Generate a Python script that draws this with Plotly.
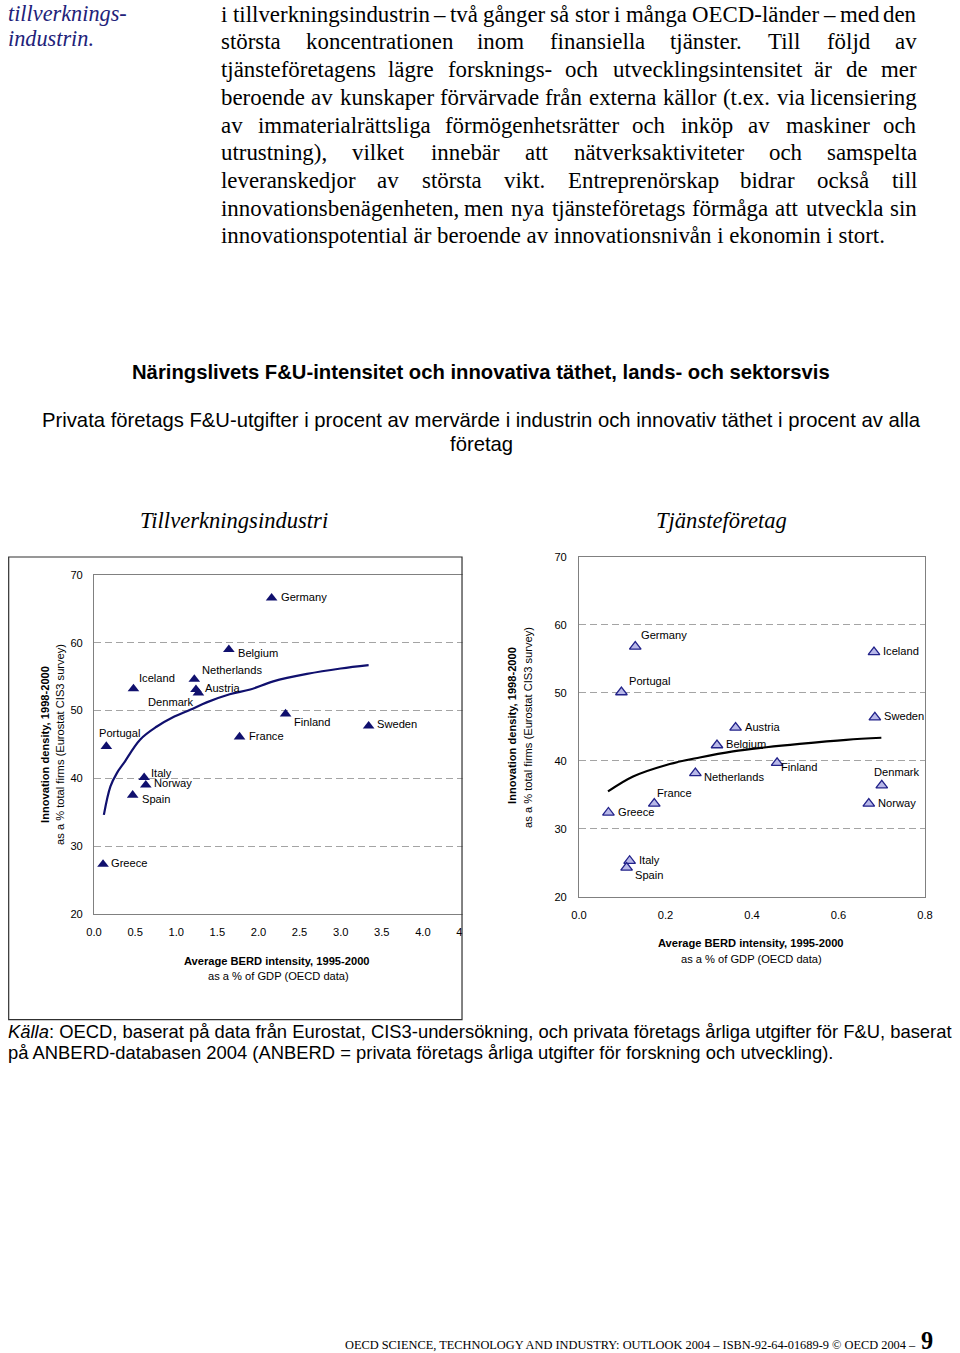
import plotly.graph_objects as go

# ---------------- DATA ----------------
manuf_countries = ["Germany", "Belgium", "Netherlands", "Iceland", "Austria", "Denmark", "Finland",
                   "Sweden", "France", "Portugal", "Italy", "Norway", "Spain", "Greece"]
manuf_berd = [2.16, 1.64, 1.22, 0.48, 1.27, 1.24, 2.33, 3.34, 1.77, 0.15, 0.61, 0.63, 0.47, 0.11]
manuf_innov = [66.6, 59.0, 54.6, 53.2, 52.6, 53.1, 49.5, 47.7, 46.1, 44.7, 40.1, 39.0, 37.5, 27.3]

manuf_trend_x = [0.12, 0.20, 0.28, 0.36, 0.56, 0.76, 0.96, 1.17, 1.37, 1.65, 1.90, 2.18, 2.59, 3.00, 3.34]
manuf_trend_y = [34.6, 38.8, 40.8, 42.2, 45.7, 47.6, 49.0, 50.1, 51.2, 52.4, 53.1, 54.3, 55.4, 56.2, 56.7]

serv_countries = ["Germany", "Portugal", "Iceland", "Sweden", "Austria", "Belgium", "Finland",
                  "Netherlands", "Denmark", "Norway", "France", "Greece", "Italy", "Spain"]
serv_berd = [0.130, 0.098, 0.682, 0.684, 0.362, 0.319, 0.458, 0.269, 0.700, 0.670, 0.174, 0.068, 0.117, 0.110]
serv_innov = [56.8, 50.1, 56.0, 46.4, 44.9, 42.3, 39.7, 38.2, 36.4, 33.7, 33.7, 32.4, 25.3, 24.3]

serv_trend_x = [0.067, 0.125, 0.202, 0.279, 0.356, 0.433, 0.510, 0.618, 0.699]
serv_trend_y = [35.5, 37.7, 39.4, 40.5, 41.4, 42.0, 42.5, 43.1, 43.4]

x_ticks_manuf = [0.0, 0.5, 1.0, 1.5, 2.0, 2.5, 3.0, 3.5, 4.0, 4.5]
x_ticks_serv = [0.0, 0.2, 0.4, 0.6, 0.8]
y_ticks = [20, 30, 40, 50, 60, 70]

paragraph_lines = [
    "i tillverkningsindustrin – två gånger så stor i många OECD-länder – med den",
    "största koncentrationen inom finansiella tjänster. Till följd av",
    "tjänsteföretagens lägre forsknings- och utvecklingsintensitet är de mer",
    "beroende av kunskaper förvärvade från externa källor (t.ex. via licensiering",
    "av immaterialrättsliga förmögenhetsrätter och inköp av maskiner och",
    "utrustning), vilket innebär att nätverksaktiviteter och samspelta",
    "leveranskedjor av största vikt. Entreprenörskap bidrar också till",
    "innovationsbenägenheten, men nya tjänsteföretags förmåga att utveckla sin",
    "innovationspotential är beroende av innovationsnivån i ekonomin i stort.",
]
side_note = ["tillverknings-", "industrin."]

main_title = "Näringslivets F&U-intensitet och innovativa täthet, lands- och sektorsvis"
sub_title = ["Privata företags F&U-utgifter i procent av mervärde i industrin och innovativ täthet i procent av alla",
             "företag"]
panel_titles = ["Tillverkningsindustri", "Tjänsteföretag"]
y_title = ["Innovation density, 1998-2000", "as a % total firms (Eurostat CIS3 survey)"]
x_title = ["Average BERD intensity, 1995-2000", "as a % of GDP (OECD data)"]
source_lines = ["<i>Källa</i>: OECD, baserat på data från Eurostat, CIS3-undersökning, och privata företags årliga utgifter för F&U, baserat",
                "på ANBERD-databasen 2004 (ANBERD = privata företags årliga utgifter för forskning och utveckling)."]
footer = "OECD SCIENCE, TECHNOLOGY AND INDUSTRY: OUTLOOK 2004 – ISBN-92-64-01689-9 © OECD 2004 –"
page_no = "9"

# ---------------- STYLE / PLACEMENT ----------------
W, H = 960, 1353
# the rendered page appears inset in the picture; place items so they land at target pixels
SX, OX = 0.9833, 8.0
SY, OY = 0.9917, 5.7
FSC = 1 / 0.987

def page_x(x): return max((x - OX) / SX, 0.0)
def page_y(y): return (y - OY) / SY
def px(x): return page_x(x) / W
def py(y): return 1 - page_y(y) / H
def fs(s): return s * FSC

NAVY = "#10106e"
SANS = "Liberation Sans, Arial, sans-serif"
SERIF = "Liberation Serif, Times New Roman, serif"
GRID = "#a4a4a4"

manuf_lab = {"Germany": (9, -1, "left"), "Belgium": (9, 3, "left"), "Netherlands": (8, -9, "left"),
             "Iceland": (5, -11, "left"), "Austria": (6, -5, "left"), "Denmark": (-2, 12, "right"),
             "Finland": (8, 8, "left"), "Sweden": (8, -2, "left"), "France": (9, -1, "left"),
             "Portugal": (13, -13, "center"), "Italy": (7, -5, "left"), "Norway": (8, -2, "left"),
             "Spain": (9, 4, "left"), "Greece": (8, -1, "left")}
serv_lab = {"Germany": (6, -12, "left"), "Portugal": (7, -11, "left"), "Iceland": (9, -1, "left"),
            "Sweden": (9, -1, "left"), "Austria": (9, -1, "left"), "Belgium": (9, -1, "left"),
            "Finland": (4, 4, "left"), "Netherlands": (8, 4, "left"), "Denmark": (15, -13, "center"),
            "Norway": (9, -1, "left"), "France": (3, -11, "left"), "Greece": (9, -1, "left"),
            "Italy": (9, -1, "left"), "Spain": (8, 7, "left")}

fig = go.Figure()

fig.add_trace(go.Scatter(x=manuf_trend_x, y=manuf_trend_y, mode="lines", line=dict(color=NAVY, width=2.2, shape="spline"),
                         xaxis="x", yaxis="y", showlegend=False, hoverinfo="skip"))
fig.add_trace(go.Scatter(x=manuf_berd, y=manuf_innov, mode="markers", text=manuf_countries,
                         marker=dict(symbol="triangle-up", size=fs(10), color=NAVY, line=dict(width=0)),
                         xaxis="x", yaxis="y", showlegend=False))
fig.add_trace(go.Scatter(x=serv_trend_x, y=serv_trend_y, mode="lines", line=dict(color="#000000", width=2.2, shape="spline"),
                         xaxis="x2", yaxis="y2", showlegend=False, hoverinfo="skip"))
fig.add_trace(go.Scatter(x=serv_berd, y=serv_innov, mode="markers", text=serv_countries,
                         marker=dict(symbol="triangle-up", size=fs(10), color="#b8b8e8", line=dict(width=1.3, color="#22228a")),
                         xaxis="x2", yaxis="y2", showlegend=False))

ann = []
for c, xv, yv in zip(manuf_countries, manuf_berd, manuf_innov):
    dx, dy, anc = manuf_lab[c]
    ann.append(dict(x=xv, y=yv, xref="x", yref="y", text=c, showarrow=False, xanchor=anc, yanchor="middle",
                    xshift=dx / SX, yshift=-dy / SY, borderpad=0, borderwidth=0,
                    font=dict(family=SANS, size=fs(11), color="#000")))
for c, xv, yv in zip(serv_countries, serv_berd, serv_innov):
    dx, dy, anc = serv_lab[c]
    ann.append(dict(x=xv, y=yv, xref="x2", yref="y2", text=c, showarrow=False, xanchor=anc, yanchor="middle",
                    xshift=dx / SX, yshift=-dy / SY, borderpad=0, borderwidth=0,
                    font=dict(family=SANS, size=fs(11), color="#000")))

def paper_text(x, y, text, size, family=SANS, anchor="center", color="#000", angle=0):
    ann.append(dict(x=px(x), y=py(y), xref="paper", yref="paper", text=text, showarrow=False,
                    xanchor=anchor, yanchor="middle", textangle=angle, borderpad=0, borderwidth=0,
                    font=dict(family=family, size=fs(size), color=color)))

def page_text(xp, y, text, size_page, family, anchor):
    ann.append(dict(x=xp / W, y=py(y), xref="paper", yref="paper", text=text, showarrow=False,
                    xanchor=anchor, yanchor="middle", borderpad=0, borderwidth=0,
                    font=dict(family=family, size=size_page, color="#000")))

# Times metrics (per 1000 em) for justified paragraph layout
TIMES = {}
for ch, w in zip("abcdefghijklmnopqrstuvwxyz",
                 [444, 500, 444, 500, 444, 333, 500, 500, 278, 278, 500, 278, 778, 500, 500, 500, 500, 333, 389, 278, 500, 500, 722, 500, 500, 444]):
    TIMES[ch] = w
for ch, w in zip("ABCDEFGHIJKLMNOPQRSTUVWXYZ",
                 [722, 667, 667, 722, 611, 556, 722, 722, 333, 389, 722, 611, 889, 722, 722, 556, 722, 667, 556, 611, 722, 722, 944, 722, 722, 611]):
    TIMES[ch] = w
TIMES.update({"å": 444, "ä": 444, "ö": 500, "é": 444, ".": 250, ",": 250, "-": 333, "(": 333, ")": 333,
              "–": 500, " ": 250, ":": 278})
def tw(s): return sum(TIMES.get(ch, 500) for ch in s) / 1000.0

FS = 22.5 / SX          # paragraph font size on the page
X0, X1 = page_x(221), page_x(917)
line_y0, line_dy = 14, 27.7
for i, line in enumerate(paragraph_lines):
    yv = line_y0 + i * line_dy
    if i == len(paragraph_lines) - 1:
        page_text(X0, yv, line, FS, SERIF, "left")
        continue
    words = line.split(" ")
    widths = [tw(w) * FS for w in words]
    gap = (X1 - X0 - sum(widths)) / (len(words) - 1)
    xcur = X0
    for j, (w, wd) in enumerate(zip(words, widths)):
        if j == len(words) - 1:
            page_text(X1, yv, w, FS, SERIF, "right")
        else:
            page_text(xcur, yv, w, FS, SERIF, "left")
        xcur += wd + gap

paper_text(5, 13, "<i>" + side_note[0] + "</i>", 22, family=SERIF, anchor="left", color="#22227a")
paper_text(5, 38, "<i>" + side_note[1] + "</i>", 22, family=SERIF, anchor="left", color="#22227a")

paper_text(481, 372, "<b>" + main_title + "</b>", 20)
paper_text(481, 420, sub_title[0], 20)
paper_text(481, 444, sub_title[1], 20)

paper_text(234, 520, "<i>" + panel_titles[0] + "</i>", 22.3, family=SERIF)
paper_text(721, 520, "<i>" + panel_titles[1] + "</i>", 22.3, family=SERIF)

paper_text(45, 745, "<b>" + y_title[0] + "</b>", 11, angle=-90)
paper_text(60, 745, y_title[1], 11, angle=-90)
paper_text(512, 726, "<b>" + y_title[0] + "</b>", 11, angle=-90)
paper_text(528, 728, y_title[1], 11, angle=-90)
paper_text(277, 961, "<b>" + x_title[0] + "</b>", 11)
paper_text(278, 976, x_title[1], 11)
paper_text(751, 943, "<b>" + x_title[0] + "</b>", 11)
paper_text(751, 959, x_title[1], 11)

page_text(0, 1032, source_lines[0], 18.4, SANS, "left")
page_text(0, 1053, source_lines[1], 18.4, SANS, "left")

paper_text(916, 1345, footer, 12.2, family=SERIF, anchor="right")
paper_text(927, 1341, "<b>" + page_no + "</b>", 24, family=SERIF)

axis_common = dict(showline=True, linecolor="#808080", linewidth=1, mirror=True, zeroline=False,
                   ticks="", tickfont=dict(family=SANS, size=fs(11), color="#000"), fixedrange=True)

fig.update_layout(
    width=W, height=H, autosize=False, margin=dict(l=0, r=0, t=0, b=0),
    paper_bgcolor="white", plot_bgcolor="white", showlegend=False,
    xaxis=dict(domain=[px(94), px(464)], range=[0, 4.5], tickvals=x_ticks_manuf, tickformat=".1f",
               showgrid=False, anchor="y", ticklabelstandoff=8, **axis_common),
    yaxis=dict(domain=[py(914), py(575)], range=[20, 70], tickvals=y_ticks, showgrid=True,
               gridcolor=GRID, griddash="7px,4px", gridwidth=1, anchor="x", ticklabelstandoff=8, **axis_common),
    xaxis2=dict(domain=[px(579), px(925)], range=[0, 0.8], tickvals=x_ticks_serv, tickformat=".1f",
                showgrid=False, anchor="y2", ticklabelstandoff=8, **axis_common),
    yaxis2=dict(domain=[py(897), py(557)], range=[20, 70], tickvals=y_ticks, showgrid=True,
                gridcolor=GRID, griddash="7px,4px", gridwidth=1, anchor="x2", ticklabelstandoff=9, **axis_common),
    annotations=ann,
    shapes=[
        dict(type="rect", xref="paper", yref="paper", x0=px(462.6), x1=px(478), y0=py(950), y1=py(565),
             fillcolor="white", line=dict(width=0), layer="above"),
        dict(type="rect", xref="paper", yref="paper", x0=0.7 / W, x1=px(462), y0=py(1020), y1=py(557),
             line=dict(color="#303030", width=1.2), fillcolor="rgba(0,0,0,0)", layer="above"),
    ],
)

fig.write_html(
    "out.html",
    config={"displayModeBar": False},
    post_script="document.documentElement.style.margin='0';document.body.style.margin='0';"
                "document.body.style.padding='0';document.documentElement.style.overflow='hidden';"
                "document.body.style.overflow='hidden';",
)
